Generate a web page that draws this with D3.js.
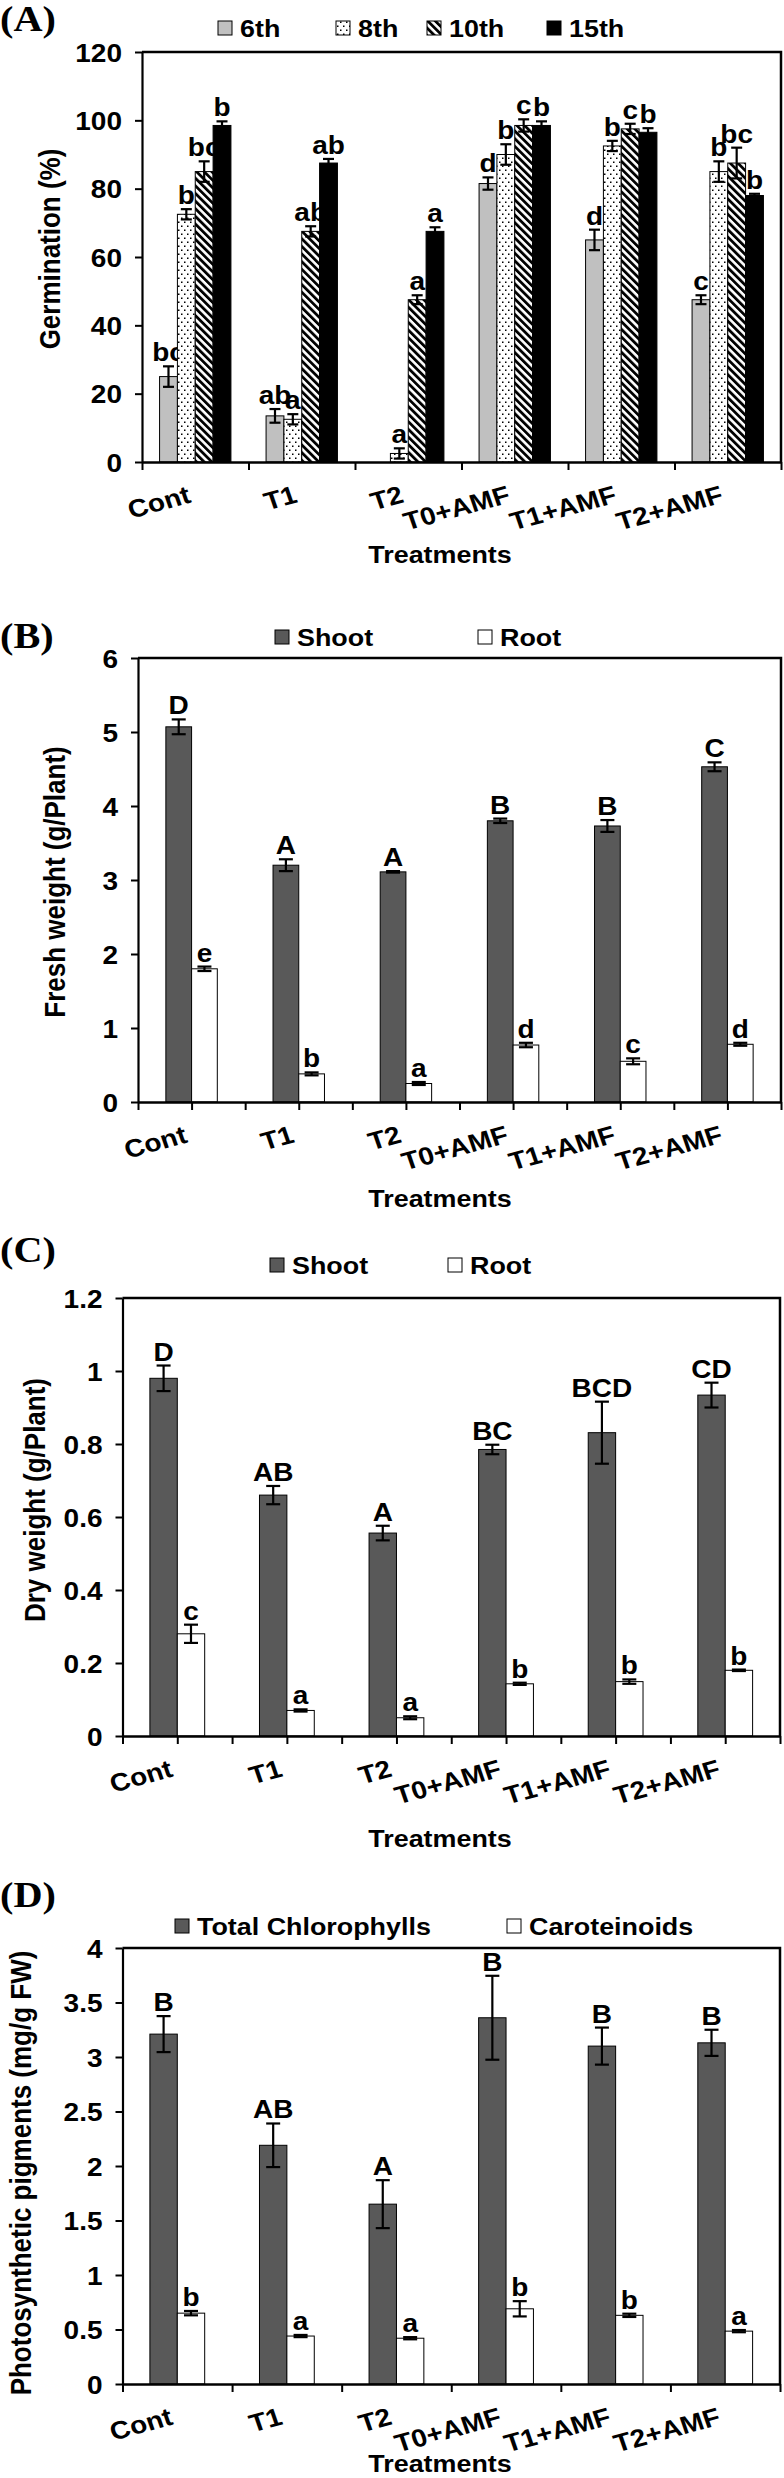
<!DOCTYPE html>
<html><head><meta charset="utf-8">
<script src="https://cdn.jsdelivr.net/npm/d3@7"></script>
<style>
body{margin:0;background:#fff}
svg{display:block}
text{font-family:"Liberation Sans",Arial,sans-serif;font-weight:bold;fill:#000}
</style>
</head><body>
<svg id="chart" width="784" height="2478"></svg>
<script>
// ---------------- DATA ----------------
const categories = ["Cont", "T1", "T2", "T0+AMF", "T1+AMF", "T2+AMF"];

// Panel A: Germination (%)
const germSeries = ["6th", "8th", "10th", "15th"];
const germ6th = [25, 13.5, 0, 81.5, 65, 47.5];
const germ6thErr = [3, 2, 0, 1.8, 3, 1.3];
const germ6thLetters = ["bc", "ab", "", "d", "d", "c"];
const germ8th = [72.5, 12.5, 2.5, 90, 92.5, 85];
const germ8thErr = [1.5, 1.5, 1.5, 3, 1.5, 3];
const germ8thLetters = ["b", "a", "a", "b", "b", "b"];
const germ10th = [85, 67.5, 47.5, 98.5, 97.5, 87.5];
const germ10thErr = [3, 1.5, 1.3, 1.8, 1.5, 4.5];
const germ10thLetters = ["bc", "ab", "a", "c", "c", "bc"];
const germ15th = [98.5, 87.5, 67.5, 98.5, 96.5, 78];
const germ15thErr = [1.2, 1.2, 1.2, 1.2, 1.2, 0.5];
const germ15thLetters = ["b", "ab", "a", "b", "b", "b"];
const germTicks = [0, 20, 40, 60, 80, 100, 120];

// Panel B: Fresh weight (g/Plant)
const freshShoot = [5.07, 3.2, 3.11, 3.8, 3.73, 4.53];
const freshShootErr = [0.1, 0.08, 0.01, 0.03, 0.08, 0.06];
const freshShootLetters = ["D", "A", "A", "B", "B", "C"];
const freshRoot = [1.8, 0.38, 0.25, 0.77, 0.55, 0.78];
const freshRootErr = [0.03, 0.02, 0.02, 0.03, 0.04, 0.02];
const freshRootLetters = ["e", "b", "a", "d", "c", "d"];
const freshTicks = [0, 1, 2, 3, 4, 5, 6];

// Panel C: Dry weight (g/Plant)
const dryShoot = [0.98, 0.66, 0.556, 0.785, 0.831, 0.934];
const dryShootErr = [0.035, 0.025, 0.02, 0.013, 0.085, 0.034];
const dryShootLetters = ["D", "AB", "A", "BC", "BCD", "CD"];
const dryRoot = [0.28, 0.07, 0.05, 0.143, 0.149, 0.18];
const dryRootErr = [0.025, 0.003, 0.004, 0.003, 0.006, 0.002];
const dryRootLetters = ["c", "a", "a", "b", "b", "b"];
const dryTicks = [0, 0.2, 0.4, 0.6, 0.8, 1, 1.2];

// Panel D: Photosynthetic pigments (mg/g FW)
const chl = [3.21, 2.19, 1.65, 3.36, 3.1, 3.13];
const chlErr = [0.165, 0.2, 0.22, 0.385, 0.17, 0.12];
const chlLetters = ["B", "AB", "A", "B", "B", "B"];
const car = [0.65, 0.44, 0.42, 0.69, 0.63, 0.485];
const carErr = [0.02, 0.01, 0.01, 0.07, 0.015, 0.01];
const carLetters = ["b", "a", "a", "b", "b", "a"];
const pigTicks = [0, 0.5, 1, 1.5, 2, 2.5, 3, 3.5, 4];

// ---------------- DRAWING ----------------
const svg = d3.select("#chart");
const SX = 1.12;
const defs = svg.append("defs");

const dots = defs.append("pattern").attr("id", "dots").attr("patternUnits", "userSpaceOnUse")
  .attr("width", 6).attr("height", 8);
dots.append("rect").attr("width", 6).attr("height", 8).attr("fill", "#fff");
dots.append("rect").attr("x", 1).attr("y", 1.5).attr("width", 1.5).attr("height", 1.5).attr("fill", "#000");
dots.append("rect").attr("x", 4).attr("y", 5.5).attr("width", 1.5).attr("height", 1.5).attr("fill", "#000");

const stripes = defs.append("pattern").attr("id", "stripes").attr("patternUnits", "userSpaceOnUse")
  .attr("width", 5.4).attr("height", 10).attr("patternTransform", "rotate(-45)");
stripes.append("rect").attr("width", 5.4).attr("height", 10).attr("fill", "#fff");
stripes.append("rect").attr("width", 2.8).attr("height", 10).attr("fill", "#000");

function addText(g, x, y, s, o = {}) {
  const size = o.size || 24, sx = o.sx || SX;
  const t = g.append("text")
    .attr("transform", `translate(${x},${y}) scale(${sx},1)` + (o.rotate ? ` rotate(${o.rotate})` : ""))
    .attr("text-anchor", o.anchor || "start")
    .style("font-size", size + "px")
    .text(s);
  if (o.dy) t.attr("dy", o.dy);
  if (o.family) t.style("font-family", o.family);
  return t;
}

const panels = [
  {
    tag: "(A)", tagY: 31, x0: 142, x1: 781, yTop: 52, yZero: 462, domain: [0, 120], ticks: germTicks,
    pad: 0.165, centerTicks: false, yTitle: "Germination (%)", yTitleX: 50, yTitleY: 249, xTitleY: 563,
    legendY: 28, legendX: [218, 336, 427, 547], capHalf: 5.5,
    series: [
      { name: germSeries[0], values: germ6th, err: germ6thErr, letters: germ6thLetters, fill: "#c0c0c0" },
      { name: germSeries[1], values: germ8th, err: germ8thErr, letters: germ8thLetters, fill: "url(#dots)" },
      { name: germSeries[2], values: germ10th, err: germ10thErr, letters: germ10thLetters, fill: "url(#stripes)" },
      { name: germSeries[3], values: germ15th, err: germ15thErr, letters: germ15thLetters, fill: "#000" }
    ]
  },
  {
    tag: "(B)", tagY: 648, x0: 138, x1: 781, yTop: 658, yZero: 1102, domain: [0, 6], ticks: freshTicks,
    pad: 0.26, centerTicks: true, yTitle: "Fresh weight (g/Plant)", yTitleX: 55, yTitleY: 882, xTitleY: 1207,
    legendY: 637, legendX: [275, 478], capHalf: 7,
    series: [
      { name: "Shoot", values: freshShoot, err: freshShootErr, letters: freshShootLetters, fill: "#595959" },
      { name: "Root", values: freshRoot, err: freshRootErr, letters: freshRootLetters, fill: "#fff" }
    ]
  },
  {
    tag: "(C)", tagY: 1262, x0: 122.5, x1: 780, yTop: 1298, yZero: 1736, domain: [0, 1.2], ticks: dryTicks,
    pad: 0.25, centerTicks: true, yTitle: "Dry weight (g/Plant)", yTitleX: 35, yTitleY: 1500, xTitleY: 1847,
    legendY: 1265, legendX: [270, 448], capHalf: 7,
    series: [
      { name: "Shoot", values: dryShoot, err: dryShootErr, letters: dryShootLetters, fill: "#595959" },
      { name: "Root", values: dryRoot, err: dryRootErr, letters: dryRootLetters, fill: "#fff" }
    ]
  },
  {
    tag: "(D)", tagY: 1907, x0: 122.5, x1: 780, yTop: 1948, yZero: 2384, domain: [0, 4], ticks: pigTicks,
    pad: 0.25, centerTicks: false, yTitle: "Photosynthetic pigments (mg/g FW)", yTitleX: 21, yTitleY: 2173, xTitleY: 2472,
    legendY: 1926, legendX: [175, 507], capHalf: 7,
    series: [
      { name: "Total Chlorophylls", values: chl, err: chlErr, letters: chlLetters, fill: "#595959" },
      { name: "Caroteinoids", values: car, err: carErr, letters: carLetters, fill: "#fff" }
    ]
  }
];

function fmt(d) { return String(+d.toFixed(2)); }

panels.forEach(p => {
  const g = svg.append("g");
  const y = d3.scaleLinear().domain(p.domain).range([p.yZero, p.yTop]);
  const x = d3.scaleBand().domain(categories).range([p.x0, p.x1]);
  const inner = d3.scaleBand().domain(p.series.map(s => s.name))
    .range([x.bandwidth() * p.pad, x.bandwidth() * (1 - p.pad)]);

  // panel tag
  addText(g, 0, p.tagY, p.tag, { size: 35, sx: 1.15, family: '"Liberation Serif","Times New Roman",serif' });

  // legend
  p.series.forEach((s, i) => {
    const lx = p.legendX[i];
    g.append("rect").attr("x", lx).attr("y", p.legendY - 7).attr("width", 14).attr("height", 14)
      .attr("fill", s.fill).attr("stroke", "#000").attr("stroke-width", 1);
    addText(g, lx + 22, p.legendY, s.name, { size: 24, dy: "0.36em" });
  });

  // bars
  p.series.forEach(s => {
    const rows = categories.map((c, i) => ({ c, v: s.values[i], e: s.err[i], l: s.letters[i] }));
    const gs = g.append("g");
    gs.selectAll("rect.bar").data(rows.filter(d => d.v > 0)).join("rect").attr("class", "bar")
      .attr("x", d => x(d.c) + inner(s.name)).attr("width", inner.bandwidth())
      .attr("y", d => y(d.v)).attr("height", d => y(p.domain[0]) - y(d.v))
      .attr("fill", s.fill).attr("stroke", "#000").attr("stroke-width", 1);
    const eb = gs.selectAll("g.err").data(rows.filter(d => d.e > 0)).join("g").attr("class", "err")
      .attr("stroke", "#000").attr("stroke-width", 2.2);
    const cx = d => x(d.c) + inner(s.name) + inner.bandwidth() / 2;
    eb.append("line").attr("x1", cx).attr("x2", cx).attr("y1", d => y(d.v - d.e)).attr("y2", d => y(d.v + d.e));
    eb.append("line").attr("x1", d => cx(d) - p.capHalf).attr("x2", d => cx(d) + p.capHalf)
      .attr("y1", d => y(d.v + d.e)).attr("y2", d => y(d.v + d.e));
    eb.append("line").attr("x1", d => cx(d) - p.capHalf).attr("x2", d => cx(d) + p.capHalf)
      .attr("y1", d => y(d.v - d.e)).attr("y2", d => y(d.v - d.e));
    rows.filter(d => d.l).forEach(d => {
      addText(gs, cx(d), y(d.v + d.e) - 5, d.l, { size: 25, anchor: "middle" });
    });
  });

  // frame (top & right)
  g.append("path").attr("d", `M${p.x0},${p.yTop}H${p.x1}V${p.yZero}`)
    .attr("fill", "none").attr("stroke", "#000").attr("stroke-width", 2.5);

  // y axis
  const ya = g.append("g").attr("transform", `translate(${p.x0},0)`)
    .call(d3.axisLeft(y).tickValues(p.ticks).tickFormat(fmt).tickSize(7).tickSizeOuter(0));
  ya.select(".domain").attr("stroke-width", 2.2);
  ya.selectAll(".tick line").attr("stroke-width", 2);
  ya.selectAll(".tick text").attr("x", -20 / SX).attr("transform", `scale(${SX},1)`)
    .attr("dy", "0.36em").style("font-size", "25px").attr("fill", "#000")
    .style("font-family", '"Liberation Sans",Arial,sans-serif').style("font-weight", "bold");

  // x axis (category boundaries, and centres where the reference shows them)
  const xb = d3.scaleLinear().domain([0, categories.length]).range([p.x0, p.x1]);
  const tv = p.centerTicks ? d3.range(0, categories.length * 2 + 1).map(k => k / 2) : d3.range(0, categories.length + 1);
  const xa = g.append("g").attr("transform", `translate(0,${p.yZero})`)
    .call(d3.axisBottom(xb).tickValues(tv).tickFormat("").tickSize(8).tickSizeOuter(0));
  xa.select(".domain").attr("stroke-width", 2.5);
  xa.selectAll(".tick line").attr("stroke-width", 2);

  // category labels
  categories.forEach(c => {
    addText(g, x(c) + x.bandwidth() / 2 - 3, p.yZero + 40, c, { size: 25, anchor: "end", rotate: -17 });
  });

  // titles
  addText(g, 440, p.xTitleY, "Treatments", { size: 24, anchor: "middle" });
  addText(g, p.yTitleX, p.yTitleY, p.yTitle, { size: 26, anchor: "middle", rotate: -90, dy: "0.36em" });
});
</script>
</body></html>
